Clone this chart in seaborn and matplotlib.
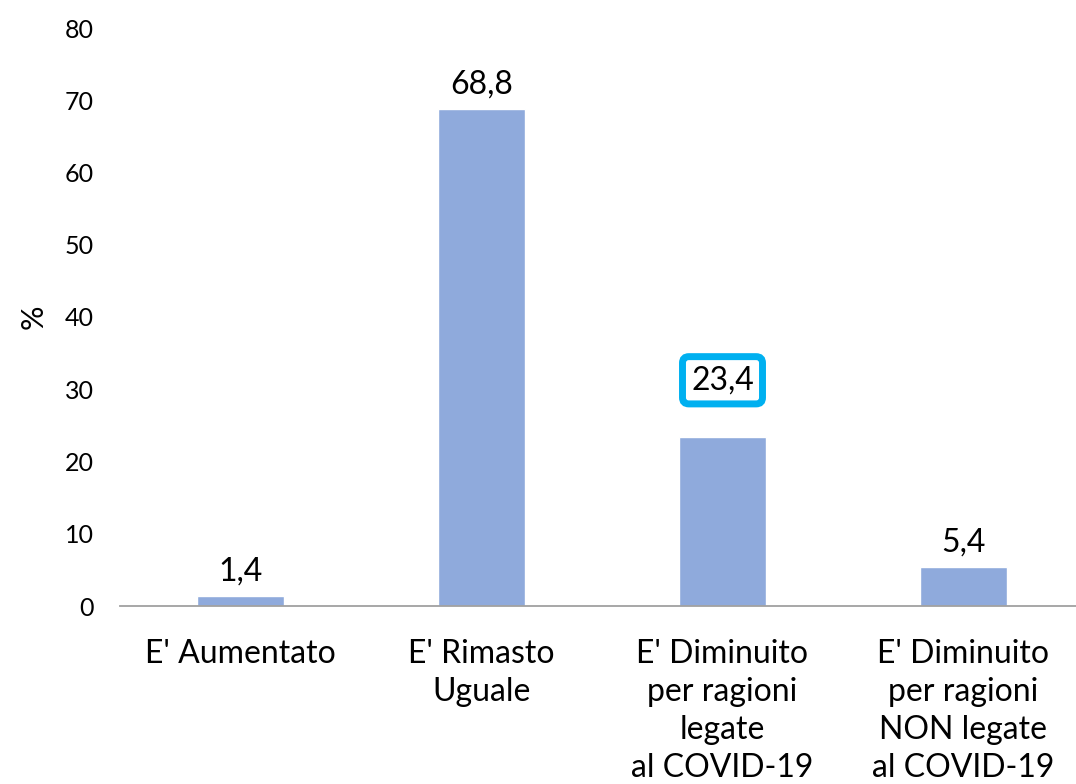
import matplotlib
matplotlib.use("Agg")
import matplotlib.pyplot as plt
import seaborn as sns
import pandas as pd

categories = [
    "E' Aumentato",
    "E' Rimasto\nUguale",
    "E' Diminuito\nper ragioni\nlegate\nal COVID-19",
    "E' Diminuito\nper ragioni\nNON legate\nal COVID-19",
]
values = [1.4, 68.8, 23.4, 5.4]
value_labels = ["1,4", "68,8", "23,4", "5,4"]
y_ticks = [0, 10, 20, 30, 40, 50, 60, 70, 80]

sns.set_style("white")
plt.rcParams["font.family"] = ["Lato", "DejaVu Sans"]
plt.rcParams["text.color"] = "black"
plt.rcParams["axes.labelcolor"] = "black"
plt.rcParams["xtick.color"] = "black"
plt.rcParams["ytick.color"] = "black"

df = pd.DataFrame({"cat": categories, "val": values})

fig = plt.figure(figsize=(10.76, 7.84), dpi=100)
ax = fig.add_axes([120 / 1076, 178 / 784, 1 - 120 / 1076, 578 / 784])

sns.barplot(data=df, x="cat", y="val", color="#8FAADC", saturation=1, width=0.36, ax=ax)

ax.set_xlim(-0.5, 3.5 - 8 / 241)
ax.set_ylim(0, 80)
ax.set_yticks(y_ticks)
ax.set_yticklabels([str(t) for t in y_ticks], fontsize=18)
ax.tick_params(axis="y", length=0, pad=19)
ax.tick_params(axis="x", length=0, pad=24)
ax.set_xticks(range(len(categories)))
ax.set_xticklabels(categories, fontsize=23, linespacing=1.33, va="top")
ax.set_xlabel("")
ax.set_ylabel("%", fontsize=22, labelpad=12)

for s in ["top", "right", "left"]:
    ax.spines[s].set_visible(False)
ax.spines["bottom"].set_color("#A0A0A0")
ax.spines["bottom"].set_linewidth(1.3)

for i, (p, lab) in enumerate(zip(ax.patches, value_labels)):
    x = p.get_x() + p.get_width() / 2
    y = p.get_height()
    if i == 2:
        ax.annotate(lab, (x, y), xytext=(0, 30), textcoords="offset points",
                    ha="center", va="bottom", fontsize=23,
                    bbox=dict(boxstyle="round,pad=0.27,rounding_size=0.2",
                              fc="white", ec="#00B0F0", lw=5))
    else:
        ax.annotate(lab, (x, y), xytext=(0, 7), textcoords="offset points",
                    ha="center", va="bottom", fontsize=23)

fig.savefig("out.png", dpi=100)
